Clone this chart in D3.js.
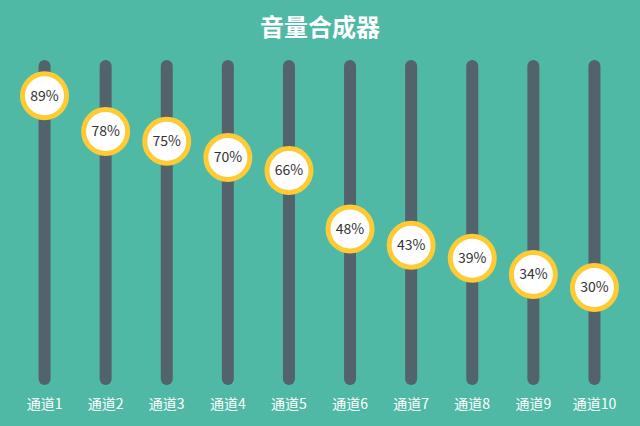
<!DOCTYPE html>
<html>
<head>
<meta charset="utf-8">
<script src="https://cdn.jsdelivr.net/npm/d3@7"></script>
<style>
  html, body { margin: 0; padding: 0; background: #50b9a5; }
  svg { display: block; font-family: "Noto Sans CJK SC", "Noto Sans", sans-serif; }
</style>
</head>
<body>
<svg id="chart" width="640" height="426"></svg>
<script>
const titleText = "音量合成器";
const channels = ["通道1", "通道2", "通道3", "通道4", "通道5", "通道6", "通道7", "通道8", "通道9", "通道10"];
const volumes = [89, 78, 75, 70, 66, 48, 43, 39, 34, 30];

const W = 640, H = 426;
const svg = d3.select("#chart");

svg.append("rect").attr("width", W).attr("height", H).attr("fill", "#50b9a5");

svg.append("text")
  .attr("x", W / 2).attr("y", 36)
  .attr("text-anchor", "middle")
  .attr("fill", "#ffffff")
  .attr("font-size", 24).attr("font-weight", "bold")
  .text(titleText);

const x = d3.scaleBand().domain(channels).range([14, 625]).paddingInner(0).paddingOuter(0);
const y = d3.scaleLinear().domain([0, 100]).range([385, 60]);

const barW = 12;
const g = svg.append("g");

// slider tracks
g.selectAll("rect.track").data(channels).join("rect")
  .attr("class", "track")
  .attr("x", d => x(d) + x.bandwidth() / 2 - barW / 2)
  .attr("y", y(100))
  .attr("width", barW)
  .attr("height", y(0) - y(100))
  .attr("rx", barW / 2)
  .attr("fill", "#52636c");

// knobs
const knobs = g.selectAll("g.knob").data(volumes).join("g")
  .attr("class", "knob")
  .attr("transform", (d, i) => `translate(${x(channels[i]) + x.bandwidth() / 2},${y(d)})`);

knobs.append("circle")
  .attr("r", 22)
  .attr("fill", "#ffffff")
  .attr("stroke", "#fecb35")
  .attr("stroke-width", 5);

knobs.append("text")
  .attr("text-anchor", "middle")
  .attr("dy", "0.35em")
  .attr("fill", "#333333")
  .attr("font-size", 14)
  .text(d => d + "%");

// channel labels along the bottom
const axis = d3.axisBottom(x).tickSize(0).tickPadding(0);
const ax = svg.append("g").attr("transform", "translate(0,399)").call(axis);
ax.select(".domain").remove();
ax.selectAll("text")
  .attr("fill", "#ffffff")
  .attr("font-size", 14)
  .attr("font-family", "\"Noto Sans CJK SC\", sans-serif");
</script>
</body>
</html>
